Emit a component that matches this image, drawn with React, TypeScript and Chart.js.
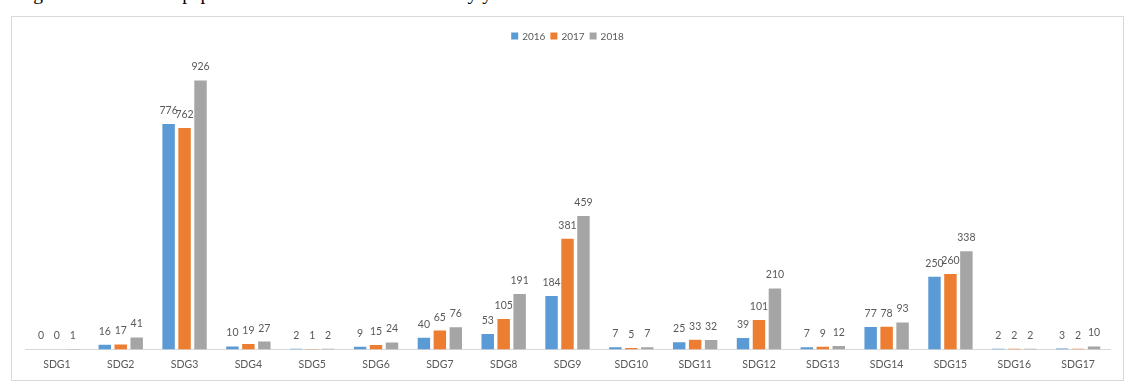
import React, { useEffect, useRef } from "react";
import { Chart, registerables } from "chart.js";

Chart.register(...registerables);

const categories = [
  "SDG1", "SDG2", "SDG3", "SDG4", "SDG5", "SDG6", "SDG7", "SDG8", "SDG9",
  "SDG10", "SDG11", "SDG12", "SDG13", "SDG14", "SDG15", "SDG16", "SDG17",
];
const seriesNames = ["2016", "2017", "2018"];
const values2016 = [0, 16, 776, 10, 2, 9, 40, 53, 184, 7, 25, 39, 7, 77, 250, 2, 3];
const values2017 = [0, 17, 762, 19, 1, 15, 65, 105, 381, 5, 33, 101, 9, 78, 260, 2, 2];
const values2018 = [1, 41, 926, 27, 2, 24, 76, 191, 459, 7, 32, 210, 12, 93, 338, 2, 10];
const seriesColors = ["#5B9BD5", "#ED7D31", "#A5A5A5"];
const yMin = 0;
const yMax = 1000;

const FONT = "Lato, 'Noto Sans', sans-serif";
const TEXT_COLOR = "#595959";

const dataLabelPlugin = {
  id: "dataLabels",
  afterDatasetsDraw(chart: any) {
    const ctx = chart.ctx;
    ctx.save();
    ctx.font = `10.5px ${FONT}`;
    ctx.fillStyle = TEXT_COLOR;
    ctx.textAlign = "center";
    ctx.textBaseline = "alphabetic";
    chart.data.datasets.forEach((ds: any, i: number) => {
      const meta = chart.getDatasetMeta(i);
      meta.data.forEach((bar: any, j: number) => {
        ctx.fillText(String(ds.data[j]), bar.x, bar.y - 10);
      });
    });
    ctx.restore();
  },
};

const legendPlugin = {
  id: "customLegend",
  afterDraw(chart: any) {
    const ctx = chart.ctx;
    ctx.save();
    ctx.font = `10px ${FONT}`;
    const box = 7;
    const gapBoxText = 4;
    const gapItems = 5;
    const items = chart.data.datasets.map((ds: any) => ({
      label: ds.label,
      color: ds.backgroundColor,
      w: ctx.measureText(ds.label).width,
    }));
    const total =
      items.reduce((s: number, it: any) => s + box + gapBoxText + it.w, 0) +
      gapItems * (items.length - 1);
    let x = chart.width / 2 - total / 2;
    const cy = 19;
    ctx.textBaseline = "middle";
    ctx.textAlign = "left";
    items.forEach((it: any) => {
      ctx.fillStyle = it.color;
      ctx.fillRect(x, cy - box / 2, box, box);
      x += box + gapBoxText;
      ctx.fillStyle = TEXT_COLOR;
      ctx.fillText(it.label, x, cy + 0.5);
      x += it.w + gapItems;
    });
    ctx.restore();
  },
};

export default function App() {
  const canvasRef = useRef<HTMLCanvasElement | null>(null);

  useEffect(() => {
    if (!canvasRef.current) return;
    const allValues = [values2016, values2017, values2018];
    const chart = new Chart(canvasRef.current, {
      type: "bar",
      data: {
        labels: categories,
        datasets: seriesNames.map((name, i) => ({
          label: name,
          data: allValues[i],
          backgroundColor: seriesColors[i],
          borderWidth: 0,
          categoryPercentage: 0.75,
          barPercentage: 0.78,
        })),
      },
      options: {
        animation: false,
        responsive: false,
        maintainAspectRatio: false,
        layout: { padding: { left: 13, right: 13, top: 42, bottom: 0 } },
        plugins: {
          legend: { display: false },
          tooltip: { enabled: false },
          title: { display: false },
        },
        scales: {
          x: {
            grid: { display: false, drawTicks: false },
            border: { display: true, color: "#D9D9D9", width: 1 },
            ticks: {
              color: TEXT_COLOR,
              font: { family: FONT, size: 10.5 },
              padding: 9,
              maxRotation: 0,
              autoSkip: false,
            },
          },
          y: {
            display: false,
            min: yMin,
            max: yMax,
          },
        },
      },
      plugins: [dataLabelPlugin, legendPlugin],
    });
    return () => chart.destroy();
  }, []);

  return (
    <div style={{ position: "absolute", left: 0, top: 0, width: 1126, height: 383, background: "#fff", overflow: "hidden" }}>
      <div
        style={{
          position: "absolute",
          left: 17,
          top: -17,
          whiteSpace: "nowrap",
          fontFamily: "'Liberation Serif', 'Times New Roman', serif",
          fontSize: 19.5,
          lineHeight: "22px",
          color: "#000",
        }}
      >
        Figure 3. Number of papers related to each of the SDGs by year
      </div>
      <div
        style={{
          position: "absolute",
          left: 11,
          top: 16,
          width: 1113,
          height: 365,
          border: "1px solid #D9D9D9",
          boxSizing: "border-box",
          background: "#fff",
        }}
      >
        <canvas ref={canvasRef} width={1111} height={363} style={{ display: "block", width: 1111, height: 363 }} />
      </div>
    </div>
  );
}
